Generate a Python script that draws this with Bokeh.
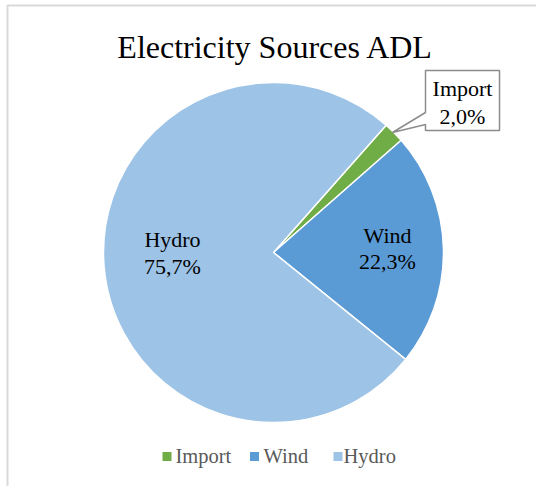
from bokeh.plotting import figure
from bokeh.models import Range1d, ColumnDataSource
from bokeh.core.properties import value
from bokeh.embed import file_html
from bokeh.resources import INLINE
import math

# ---- data ----
categories = ["Import", "Wind", "Hydro"]
shares = [2.0, 22.3, 75.7]
colors = ["#70ad47", "#5b9bd5", "#9dc3e6"]
title_text = "Electricity Sources ADL"

W, H = 536, 486
FONT = "Liberation Serif"

def Y(py):
    return H - py

def mid(baseline, size):
    # convert a desired alphabetic baseline (pixels from top) to a "middle" anchor
    return Y(baseline - 0.3375 * size)

p = figure(width=W, height=H, x_range=Range1d(0, W), y_range=Range1d(0, H),
           output_backend="svg", toolbar_location=None, min_border=0)
p.axis.visible = False
p.grid.visible = False
p.outline_line_color = None
p.background_fill_color = "white"
p.border_fill_color = "white"

# chart frame border
p.line(x=[7, 7, W + 5], y=[Y(H + 5), Y(5), Y(5)], line_color="#d9d9d9", line_width=2)

# pie
cx, cy, r = 273, Y(252), 170
first_angle = 41.5  # degrees clockwise from 12 o'clock
total = sum(shares)
starts, ends = [], []
acc = first_angle
for v in shares:
    a0 = acc
    a1 = acc + v / total * 360.0
    starts.append(math.radians(90 - a0))
    ends.append(math.radians(90 - a1))
    acc = a1

src = ColumnDataSource(dict(x=[cx] * 3, y=[cy] * 3, start=starts, end=ends,
                            color=colors, cat=categories))
p.wedge(x="x", y="y", radius=r, radius_units="screen", start_angle="start",
        end_angle="end", direction="clock", fill_color="color",
        line_color="white", line_width=1.5, source=src)

def pct(v):
    return f"{v:.1f}".replace(".", ",") + "%"

# title
TS = 32
p.text(x=[275], y=[mid(57.5, TS)], text=[title_text], text_font=value(FONT),
       text_font_size=f"{TS}px", text_color="#000000", text_align="center",
       text_baseline="middle")

# in-slice labels
LS = 22
p.text(x=[172, 172], y=[mid(246, LS), mid(273, LS)], text=[categories[2], pct(shares[2])],
       text_font=value(FONT), text_font_size=f"{LS}px", text_color="#000000",
       text_align="center", text_baseline="middle")
p.text(x=[387, 387], y=[mid(242, LS), mid(268.5, LS)], text=[categories[1], pct(shares[1])],
       text_font=value(FONT), text_font_size=f"{LS}px", text_color="#000000",
       text_align="center", text_baseline="middle")

# Import callout box
bx0, bx1, by0, by1 = 425, 499, 70, 130
tipx, tipy = 392, 132
p.patch(x=[bx0, bx1, bx1, bx0, bx0, tipx, bx0, bx0],
        y=[Y(by0), Y(by0), Y(by1), Y(by1), Y(124), Y(tipy), Y(112), Y(by0)],
        fill_color="white", line_color="#8c8c8c", line_width=1.5)
p.text(x=[462, 462], y=[mid(95, LS), mid(123, LS)], text=[categories[0], pct(shares[0])],
       text_font=value(FONT), text_font_size=f"{LS}px", text_color="#000000",
       text_align="center", text_baseline="middle")

# legend
GS = 20.5
leg_sq_x = [166.5, 254, 337.5]
leg_tx = [175, 263, 343]
p.rect(x=leg_sq_x, y=[Y(456)] * 3, width=9, height=9, fill_color=colors,
       line_color=None)
p.text(x=leg_tx, y=[mid(462, GS)] * 3, text=categories, text_font=value(FONT),
       text_font_size=f"{GS}px", text_color="#595959", text_align="left",
       text_baseline="middle")

open("out.html", "w").write(file_html(p, INLINE))
